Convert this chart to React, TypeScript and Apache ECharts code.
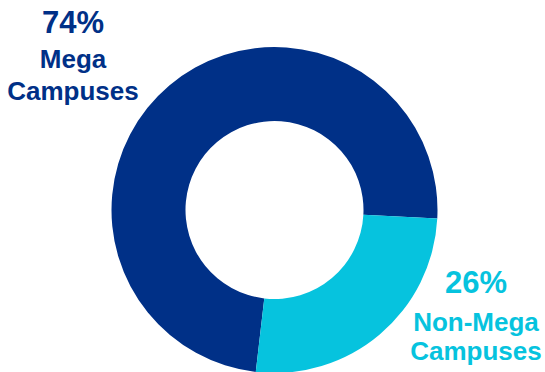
import React, { useEffect, useRef } from "react";
import * as echarts from "echarts";

const categories = ["Mega Campuses", "Non-Mega Campuses"];
const values = [74, 26];
const labelLines = [["Mega", "Campuses"], ["Non-Mega", "Campuses"]];
const colors = ["#003087", "#06C3DE"];

export default function App() {
  const ref = useRef<HTMLDivElement>(null);
  useEffect(() => {
    document.body.style.margin = "0";
    const chart = echarts.init(ref.current!, null, { renderer: "svg" });
    const font = "'Liberation Sans', Arial, sans-serif";
    const labelPos = [
      { x: 73, y: 54.5, l1: 41, l2: 32 },
      { x: 476, y: 311.5, l1: 49, l2: 29 },
    ];
    const data = categories.map((name, i) => ({
      name,
      value: values[i],
      itemStyle: { color: colors[i] },
      label: {
        show: true,
        overflow: "none",
        width: 300,
        formatter: `{p|${values[i]}%}\n${labelLines[i].map((t) => `{n|${t}}`).join("\n")}`,
        align: "center",
        rich: {
          p: {
            fontFamily: font,
            fontWeight: "bold",
            fontSize: 31,
            color: colors[i],
            lineHeight: labelPos[i].l1,
            align: "center",
          },
          n: {
            fontFamily: font,
            fontWeight: "bold",
            fontSize: 26,
            color: colors[i],
            lineHeight: labelPos[i].l2,
            align: "center",
          },
        },
      },
    }));
    chart.setOption({
      animation: false,
      series: [
        {
          type: "pie",
          center: [274.5, 210],
          radius: [89, 163],
          startAngle: 263.4,
          clockwise: true,
          data,
          itemStyle: { borderWidth: 0 },
          label: { position: "outside", overflow: "none", alignTo: "none" },
          labelLine: { show: false },
          emphasis: { disabled: true },
          labelLayout: (params: any) => {
            const p = labelPos[params.dataIndex];
            return { x: p.x, y: p.y, align: "center", verticalAlign: "middle", hideOverlap: false };
          },
        },
      ],
    });
    return () => chart.dispose();
  }, []);
  return <div ref={ref} style={{ width: 545, height: 372 }} />;
}
